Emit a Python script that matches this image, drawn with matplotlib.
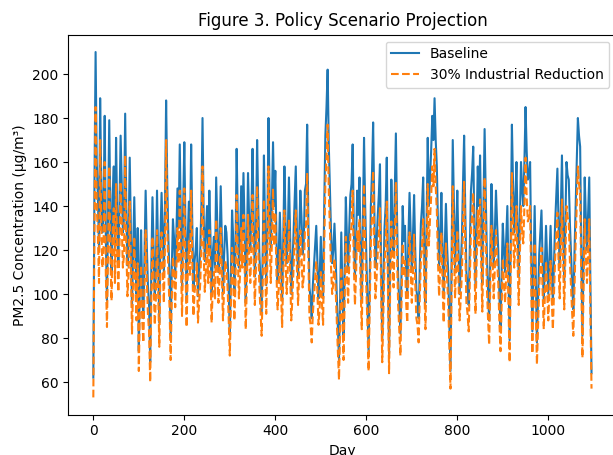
import numpy as np
import matplotlib
matplotlib.use("Agg")
import matplotlib.pyplot as plt

# series, every 2.5 days (one row = 50 days)
days = np.arange(0, 1095.1, 2.5)

baseline = [
    62, 150, 210, 160, 145, 120, 189, 150, 128, 140, 181, 125, 97, 140, 179, 135, 110, 145, 158, 120,
    171, 135, 115, 140, 172, 150, 128, 135, 182, 140, 113, 125, 162, 130, 94, 120, 144, 118, 100, 130,
    74, 110, 129, 100, 89, 118, 147, 122, 104, 95, 69, 112, 144, 120, 98, 112, 147, 118, 87, 126,
    146, 128, 110, 140, 188, 150, 125, 108, 80, 112, 134, 125, 107, 128, 148, 130, 168, 132, 103, 140,
    169, 130, 97, 125, 142, 124, 168, 132, 103, 115, 120, 130, 99, 110, 120, 140, 180, 136, 115, 128,
    140, 120, 147, 126, 99, 118, 126, 112, 153, 132, 110, 122, 149, 124, 100, 118, 131, 128, 118, 102,
    82, 110, 138, 125, 100, 120, 166, 135, 112, 125, 149, 128, 155, 130, 96, 120, 155, 134, 120, 138,
    166, 132, 108, 128, 170, 140, 118, 105, 92, 122, 163, 130, 104, 130, 180, 145, 120, 142, 169, 140,
    156, 125, 106, 118, 137, 116, 97, 125, 158, 132, 114, 128, 153, 126, 100, 112, 127, 142, 158, 128,
    108, 126, 147, 135, 118, 124, 147, 150, 177, 136, 103, 98, 89, 104, 113, 122, 131, 115, 98, 108,
    126, 110, 98, 140, 172, 185, 202, 168, 147, 128, 114, 120, 132, 118, 100, 85, 70, 100, 128, 102,
    80, 112, 144, 125, 110, 130, 145, 150, 168, 130, 108, 125, 147, 136, 153, 118, 96, 132, 171, 140,
    118, 98, 74, 108, 140, 155, 178, 140, 112, 122, 135, 145, 159, 115, 79, 105, 130, 140, 162, 115,
    73, 118, 152, 132, 118, 145, 173, 135, 108, 95, 82, 112, 140, 124, 131, 110, 99, 125, 146, 128,
    110, 126, 145, 120, 102, 98, 89, 112, 132, 140, 153, 118, 96, 135, 171, 140, 153, 165, 181, 170,
    189, 170, 158, 132, 113, 128, 146, 120, 99, 122, 141, 122, 110, 88, 65, 120, 170, 140, 112, 128,
    147, 122, 100, 112, 125, 150, 172, 138, 110, 104, 95, 122, 147, 155, 167, 130, 104, 132, 158, 140,
    163, 130, 105, 140, 175, 145, 118, 102, 88, 120, 150, 130, 112, 128, 147, 132, 120, 100, 85, 110,
    132, 120, 110, 125, 140, 108, 79, 130, 177, 150, 128, 142, 160, 130, 108, 135, 160, 148, 140, 160,
    185, 165, 152, 154, 160, 118, 83, 112, 140, 108, 78, 98, 118, 128, 138, 115, 96, 114, 131, 115,
    100, 116, 131, 112, 96, 114, 132, 145, 157, 132, 112, 138, 163, 132, 106, 134, 160, 154, 152, 132,
    118, 104, 93, 118, 140, 160, 180, 172, 167, 120, 81, 118, 153, 135, 120, 136, 153, 105, 64,
]

reduced = [
    53, 131, 185, 140, 127, 105, 170, 131, 112, 122, 160, 109, 85, 122, 158, 118, 97, 127, 139, 105,
    150, 118, 101, 122, 151, 131, 112, 118, 163, 122, 99, 109, 142, 114, 82, 105, 126, 103, 88, 114,
    65, 96, 113, 88, 78, 103, 129, 107, 91, 83, 60, 98, 126, 105, 86, 98, 129, 103, 76, 110,
    128, 112, 96, 122, 170, 131, 109, 94, 70, 98, 117, 109, 94, 112, 130, 114, 147, 115, 90, 122,
    148, 114, 85, 109, 124, 108, 147, 115, 90, 101, 105, 114, 87, 96, 105, 122, 158, 119, 101, 112,
    123, 105, 129, 110, 87, 103, 110, 98, 134, 115, 96, 107, 130, 108, 88, 103, 115, 112, 103, 89,
    72, 96, 121, 109, 88, 105, 145, 118, 98, 109, 130, 112, 136, 114, 84, 105, 136, 117, 105, 121,
    145, 115, 95, 112, 149, 122, 103, 92, 81, 107, 143, 114, 91, 114, 158, 127, 105, 124, 148, 122,
    137, 109, 93, 103, 120, 101, 85, 109, 138, 115, 100, 112, 134, 110, 88, 98, 111, 124, 138, 112,
    95, 110, 129, 118, 103, 108, 129, 131, 155, 119, 90, 86, 78, 91, 99, 107, 115, 101, 86, 94,
    110, 96, 86, 122, 150, 162, 177, 147, 129, 112, 100, 105, 116, 103, 88, 74, 61, 87, 112, 89,
    70, 98, 126, 109, 96, 114, 127, 131, 147, 114, 95, 109, 129, 119, 134, 103, 84, 115, 150, 122,
    103, 86, 65, 94, 123, 136, 156, 122, 98, 107, 118, 127, 139, 101, 69, 92, 114, 122, 142, 101,
    64, 103, 133, 115, 103, 127, 151, 118, 95, 83, 72, 98, 123, 108, 115, 96, 87, 109, 128, 112,
    96, 110, 127, 105, 89, 86, 78, 98, 116, 122, 134, 103, 84, 118, 150, 122, 134, 144, 158, 149,
    166, 149, 138, 115, 99, 112, 128, 105, 87, 107, 123, 107, 96, 77, 57, 105, 149, 122, 98, 112,
    129, 107, 88, 98, 109, 131, 151, 121, 96, 91, 83, 107, 129, 136, 146, 114, 91, 115, 138, 122,
    143, 114, 92, 122, 153, 127, 103, 89, 77, 105, 131, 114, 98, 112, 129, 115, 105, 87, 74, 96,
    116, 105, 96, 109, 123, 94, 69, 114, 155, 131, 112, 124, 140, 114, 95, 118, 140, 129, 123, 140,
    162, 144, 133, 135, 140, 103, 73, 98, 123, 94, 68, 86, 103, 112, 121, 101, 84, 100, 115, 101,
    88, 101, 115, 98, 84, 100, 116, 127, 137, 115, 98, 121, 143, 115, 93, 117, 140, 135, 133, 115,
    103, 91, 81, 103, 123, 140, 158, 150, 146, 105, 71, 103, 134, 118, 105, 119, 134, 92, 57,
]

fig = plt.figure(figsize=(6.13, 4.55), dpi=100)
ax = fig.add_axes([0.1116, 0.0886, 0.894, 0.835])

ax.plot(days, baseline, label="Baseline")
ax.plot(days, reduced, "--", label="30% Industrial Reduction")

ax.set_title("Figure 3. Policy Scenario Projection")
ax.set_xlabel("Day")
ax.set_ylabel("PM2.5 Concentration (μg/m³)")
ax.legend(loc="upper right")

fig.savefig("out.png", dpi=100)
